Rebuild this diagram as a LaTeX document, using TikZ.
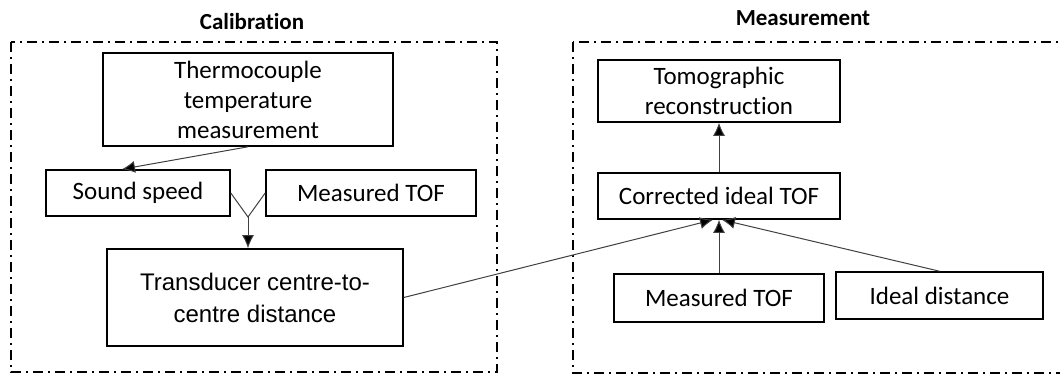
\documentclass[tikz,border=0pt]{standalone}
\usepackage{fontspec}
\setmainfont{Carlito}[Ligatures=CommonOff]
\newfontfamily\arialfont{Liberation Sans}
\usetikzlibrary{positioning, arrows.meta}

\begin{document}
\begin{tikzpicture}[x=0.5pt, y=-0.5pt, every node/.style={align=center}]
    % colours
    \definecolor{linegray}{RGB}{64,64,64}

    % styles
    \tikzstyle{stagebox} = [rectangle, draw=black, line width=0.8pt, inner sep=1pt, font=\fontsize{12.5}{15}\selectfont]
    \tikzstyle{region} = [draw=black, line width=0.7pt, dash pattern=on 5pt off 2.5pt on 1pt off 2.5pt]
    \tikzstyle{title} = [font=\fontsize{11.5}{14}\selectfont\bfseries]
    \tikzstyle{flow} = [-{Latex[length=6.5pt, width=6pt, fill=black]}, linegray, line width=0.5pt]

    \clip (0,0) rectangle (1060,374);
    \useasboundingbox (0,0) rectangle (1060,374);

    % regions
    \draw[region] (11,42) rectangle (497,372);
    \draw[region] (573,42) rectangle (1075,373);
    \node[title] (caltitle) at (252,22) {Calibration};
    \node[title] (meastitle) at (803,18) {Measurement};

    % calibration
    \node[stagebox, minimum width=145pt, minimum height=46.5pt] (thermo) at (248,99.5) {Thermocouple\\temperature\\measurement};
    \node[stagebox, minimum width=92pt, minimum height=23pt] (speed) at (138,193) {Sound speed};
    \node[stagebox, minimum width=105pt, minimum height=23pt] (tofcal) at (371,193) {Measured TOF};
    \node[stagebox, minimum width=148pt, minimum height=48.5pt, font=\arialfont\fontsize{12}{16}\selectfont] (trans) at (255,297.5) {Transducer centre-to-\\centre distance};
    \coordinate (join) at (248,217);

    % measurement
    \node[stagebox, minimum width=121pt, minimum height=31pt] (tomo) at (719,91) {Tomographic\\reconstruction};
    \node[stagebox, minimum width=121pt, minimum height=23pt] (corr) at (719,196) {Corrected ideal TOF};
    \node[stagebox, minimum width=105pt, minimum height=24pt] (tofmeas) at (719,298) {Measured TOF};
    \node[stagebox, minimum width=103.5pt, minimum height=23.5pt] (ideal) at (939.5,295.5) {Ideal distance};

    % arrows
    \draw[flow] (thermo.south) -- ([xshift=-8pt]speed.north);
    \draw[linegray, line width=0.5pt] (speed.east) -- (join) -- (tofcal.west);
    \draw[flow] (join) -- (trans.north -| join);
    \draw[flow] (trans.east) -- ([xshift=-3pt]corr.south);
    \draw[flow] (tofmeas.north) -- (corr.south);
    \draw[flow] (ideal.north) -- ([xshift=1.5pt]corr.south);
    \draw[flow] (corr.north) -- (tomo.south);
\end{tikzpicture}
\end{document}
